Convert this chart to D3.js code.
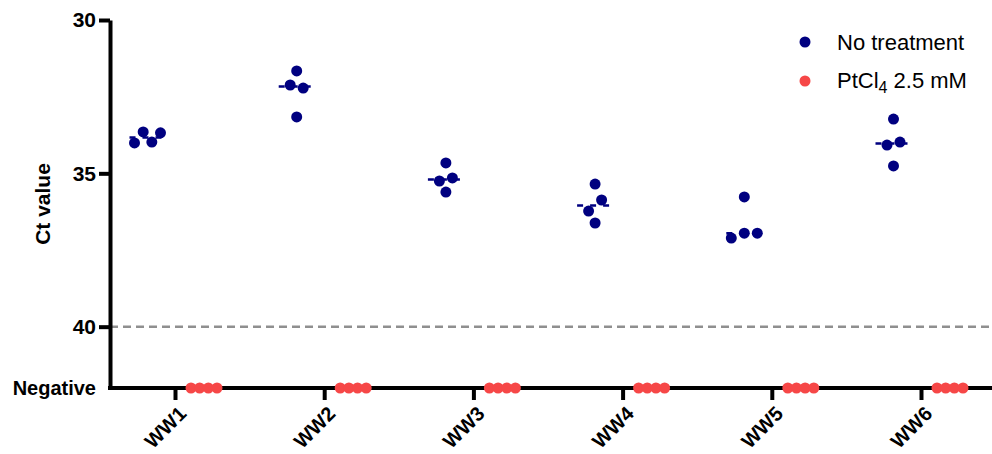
<!DOCTYPE html>
<html>
<head>
<meta charset="utf-8">
<script src="https://cdn.jsdelivr.net/npm/d3@7"></script>
<style>
  body { margin: 0; background: #fff; }
  svg { font-family: "Liberation Sans", Arial, sans-serif; }
</style>
</head>
<body>
<div id="chart"></div>
<script>
var width = 992;
var height = 454;

// data
var samples = ["WW1", "WW2", "WW3", "WW4", "WW5", "WW6"];
var noTreatment = [
  [34.01, 33.65, 33.98, 33.68],
  [31.66, 32.12, 32.22, 33.16],
  [34.66, 35.25, 35.15, 35.61],
  [35.35, 36.23, 35.87, 36.62],
  [35.77, 37.11, 36.95, 36.95],
  [33.23, 34.08, 33.98, 34.76]
];
var ptcl4 = [
  ["Negative", "Negative", "Negative", "Negative"],
  ["Negative", "Negative", "Negative", "Negative"],
  ["Negative", "Negative", "Negative", "Negative"],
  ["Negative", "Negative", "Negative", "Negative"],
  ["Negative", "Negative", "Negative", "Negative"],
  ["Negative", "Negative", "Negative", "Negative"]
];
var yTicks = [30, 35, 40, 42];
var cutoff = 40;
var negativePos = 42;

var navy = "#000080";
var red = "#f64747";

function ct(v) { return v === "Negative" ? negativePos : v; }

var xScale = d3.scalePoint().domain(samples).range([175, 921]);
var subScale = d3.scalePoint().domain(["none", "pt"]).range([-27.5, 29]);
var yScale = d3.scaleLinear().domain([30, 42]).range([20, 388]);

var svg = d3.select("#chart")
  .append("svg")
    .attr("width", width)
    .attr("height", height);

// simple row swarm: points closer than 12px share a row and are spread
function swarm(vals, cx) {
  var pts = vals.map(function(v, i) { return {v: v, i: i, y: yScale(ct(v))}; });
  var sorted = pts.slice().sort(function(a, b) { return a.y - b.y; });
  var rows = [];
  sorted.forEach(function(p) {
    var r = rows[rows.length - 1];
    if (r && p.y - r[0].y < 12) r.push(p); else rows.push([p]);
  });
  rows.forEach(function(r) {
    r.sort(function(a, b) { return a.i - b.i; });
    var n = r.length;
    var step = n > 1 ? Math.min(13, 26 / (n - 1)) : 0;
    r.forEach(function(p, k) { p.x = cx + (k - (n - 1) / 2) * step; });
  });
  return pts;
}

// cutoff line
svg.append("line")
  .attr("x1", 110).attr("x2", width)
  .attr("y1", yScale(cutoff)).attr("y2", yScale(cutoff))
  .attr("stroke", "#8f8f8f")
  .attr("stroke-width", 2.5)
  .attr("stroke-dasharray", "8,5");

// y axis
var yAxis = d3.axisLeft(yScale)
  .tickValues(yTicks)
  .tickFormat(function(d) { return d === negativePos ? "Negative" : d; })
  .tickSize(11)
  .tickSizeOuter(0)
  .tickPadding(3);

var gy = svg.append("g")
  .attr("transform", "translate(110,0)")
  .call(yAxis);
gy.select(".domain").attr("stroke-width", 4).attr("stroke", "#000");
gy.selectAll(".tick line").attr("stroke-width", 4).attr("stroke", "#000");
gy.selectAll(".tick").filter(function(d) { return d === negativePos; }).select("line").remove();
gy.selectAll(".tick text")
  .attr("fill", "#000")
  .style("font-size", function(d) { return d === negativePos ? "20px" : "21px"; })
  .style("font-weight", "bold");

svg.append("text")
  .attr("transform", "translate(50,204) rotate(-90)")
  .attr("text-anchor", "middle")
  .style("font-size", "21px")
  .style("font-weight", "bold")
  .text("Ct value");

// x axis
var xAxis = d3.axisBottom(xScale).tickSize(12).tickSizeOuter(0);
var gx = svg.append("g")
  .attr("transform", "translate(0,388)")
  .call(xAxis);
gx.select(".domain").remove();
gx.selectAll(".tick line").attr("stroke-width", 4).attr("stroke", "#000");
gx.selectAll(".tick text")
  .attr("fill", "#000")
  .attr("text-anchor", "end")
  .attr("y", 0).attr("dy", 0)
  .attr("transform", "translate(12,27) rotate(-45)")
  .style("font-size", "20px")
  .style("font-weight", "bold");

svg.append("line")
  .attr("x1", 108).attr("x2", width)
  .attr("y1", 388).attr("y2", 388)
  .attr("stroke", "#000")
  .attr("stroke-width", 4);

// medians and points
samples.forEach(function(s, i) {
  var cx = xScale(s) + subScale("none");
  var med = d3.median(noTreatment[i]);
  svg.append("line")
    .attr("x1", cx - 18).attr("x2", cx + 18)
    .attr("y1", yScale(med)).attr("y2", yScale(med))
    .attr("stroke", navy)
    .attr("stroke-width", 2.5)
    .attr("stroke-dasharray", "6,7");

  svg.append("g").selectAll("circle")
    .data(swarm(noTreatment[i], cx))
    .join("circle")
      .attr("cx", function(d) { return d.x; })
      .attr("cy", function(d) { return d.y; })
      .attr("r", 5.5)
      .attr("fill", navy);

  svg.append("g").selectAll("circle")
    .data(swarm(ptcl4[i], xScale(s) + subScale("pt")))
    .join("circle")
      .attr("cx", function(d) { return d.x; })
      .attr("cy", function(d) { return d.y; })
      .attr("r", 5.5)
      .attr("fill", red);
});

// legend
var legend = svg.append("g").style("font-size", "22px");
legend.append("circle").attr("cx", 805).attr("cy", 42).attr("r", 5.5).attr("fill", navy);
legend.append("text").attr("x", 837).attr("y", 50).text("No treatment");
legend.append("circle").attr("cx", 805).attr("cy", 81).attr("r", 5.5).attr("fill", red);
var t2 = legend.append("text").attr("x", 837).attr("y", 88);
t2.append("tspan").text("PtCl");
t2.append("tspan").attr("dy", 5).style("font-size", "16px").text("4");
t2.append("tspan").attr("dy", -5).text(" 2.5 mM");
</script>
</body>
</html>
